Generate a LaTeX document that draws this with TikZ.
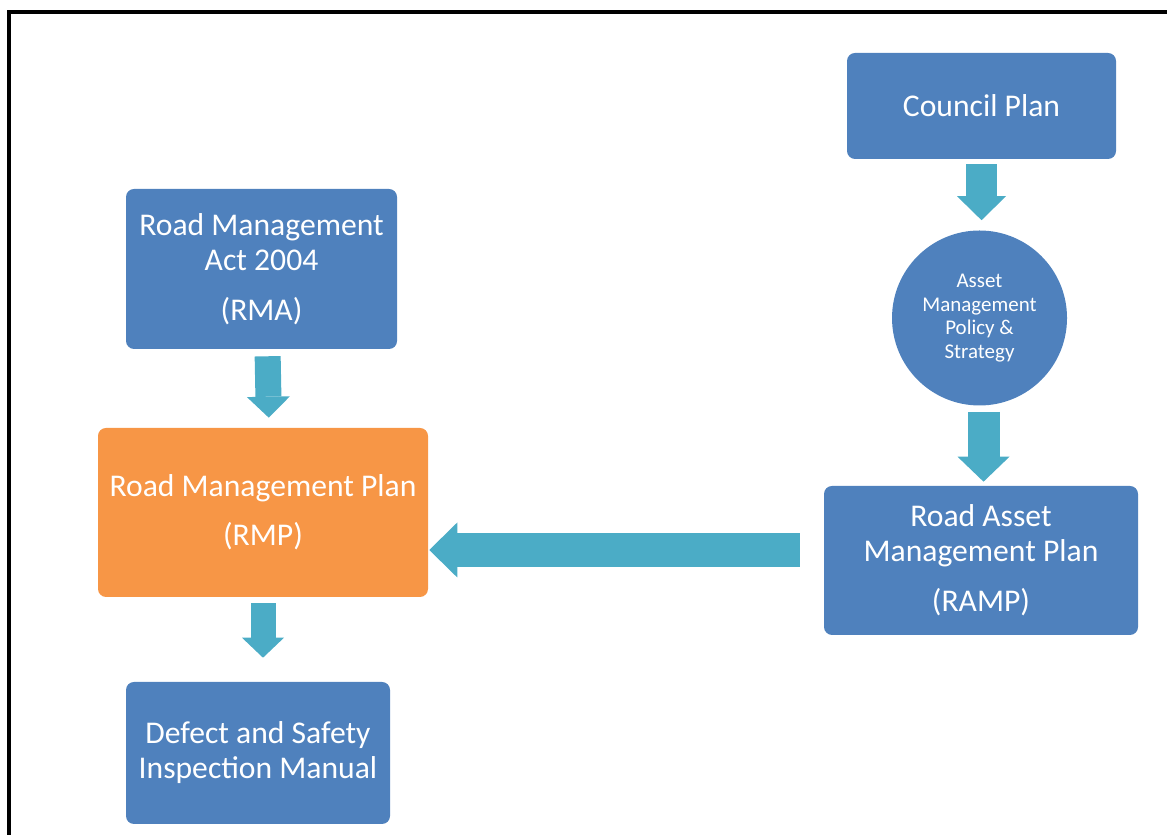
\documentclass[tikz,border=0pt]{standalone}
\usepackage{fontspec}
\setmainfont{Carlito}
\usetikzlibrary{arrows.meta}
\definecolor{planblue}{HTML}{4F81BD}
\definecolor{planorange}{HTML}{F79646}
\definecolor{flowteal}{HTML}{4BACC6}

\begin{document}
\begin{tikzpicture}[
  planbox/.style={rectangle,rounded corners=0.2cm,fill=planblue,
    text=white,align=center,inner sep=0pt,
    font=\fontsize{22.5}{24.9}\selectfont},
  policyball/.style={circle,fill=planblue,text=white,align=center,
    inner sep=0pt,minimum size=4.375cm,
    font=\fontsize{14.9}{16.9}\selectfont},
  flow/.style={draw=flowteal,line width=#1},
  flow/.default=0.65cm]
\useasboundingbox (0,0) rectangle (29.175,20.875);
\clip (0,0) rectangle (29.175,20.875);
% frame round the page
\draw [line width=0.1cm] (0.213,-0.5) -- (0.213,20.563) -- (29.8,20.563);
\coordinate (cp) at (24.538,18.225);
\coordinate (rm) at (6.538,14.150);
\coordinate (rp) at (6.575,8.063);
\coordinate (ds) at (6.450,2.050);
\coordinate (ra) at (24.525,6.863);
\coordinate (ap) at (24.488,12.925);
\coordinate (lv) at (15.000,7.125);
\node [planbox,minimum width=6.725cm,minimum height=2.65cm]
    (council) at (cp) {Council Plan};
\node [planbox,minimum width=6.775cm,minimum height=4.0cm]
    (rma) at (rm) {Road Management\\Act 2004\\[0.375cm](RMA)};
\node [planbox,fill=planorange,minimum width=8.25cm,
    minimum height=4.225cm] (rmp) at (rp)
    {Road Management Plan\\[0.35cm](RMP)};
\node [planbox,minimum width=6.6cm,minimum height=3.55cm]
    (dsim) at (ds) {Defect and Safety\\Inspection Manual};
\node [planbox,minimum width=7.85cm,minimum height=3.725cm]
    (ramp) at (ra) {Road Asset\\Management Plan\\[0.375cm](RAMP)};
\node [policyball] (ampol) at (ap)
    {Asset\\Management\\Policy \&\\Strategy};
% block arrows
\draw [flow=0.65cm,shorten <=0.175cm,shorten >=0.25cm,
    -{Triangle[length=0.525cm,width=1.075cm,line width=0pt]}]
    ([xshift=0.15cm]rma.south) -- ([xshift=0.15cm]rmp.north);
\draw [flow=0.625cm,shorten <=0.15cm,shorten >=0.6cm,
    -{Triangle[length=0.5cm,width=1.05cm,line width=0pt]}]
    (rmp.south) -- (rmp.south |- dsim.north);
\draw [flow=0.775cm,shorten <=0.125cm,shorten >=0.25cm,
    -{Triangle[length=0.6cm,width=1.225cm,line width=0pt]}]
    (council.south) -- (council.south |- ampol.north);
\draw [flow=0.8cm,shorten <=0.15cm,shorten >=0.1cm,
    -{Triangle[length=0.625cm,width=1.3cm,line width=0pt]}]
    ([xshift=0.1cm]ampol.south) -- ([xshift=0.1cm]ampol.south |- ramp.north);
\draw [flow=0.85cm,shorten <=0.6cm,shorten >=0.025cm,
    -{Triangle[length=0.7cm,width=1.375cm,line width=0pt]}]
    (ramp.west |- lv) -- (rmp.east |- lv);
\end{tikzpicture}
\end{document}
